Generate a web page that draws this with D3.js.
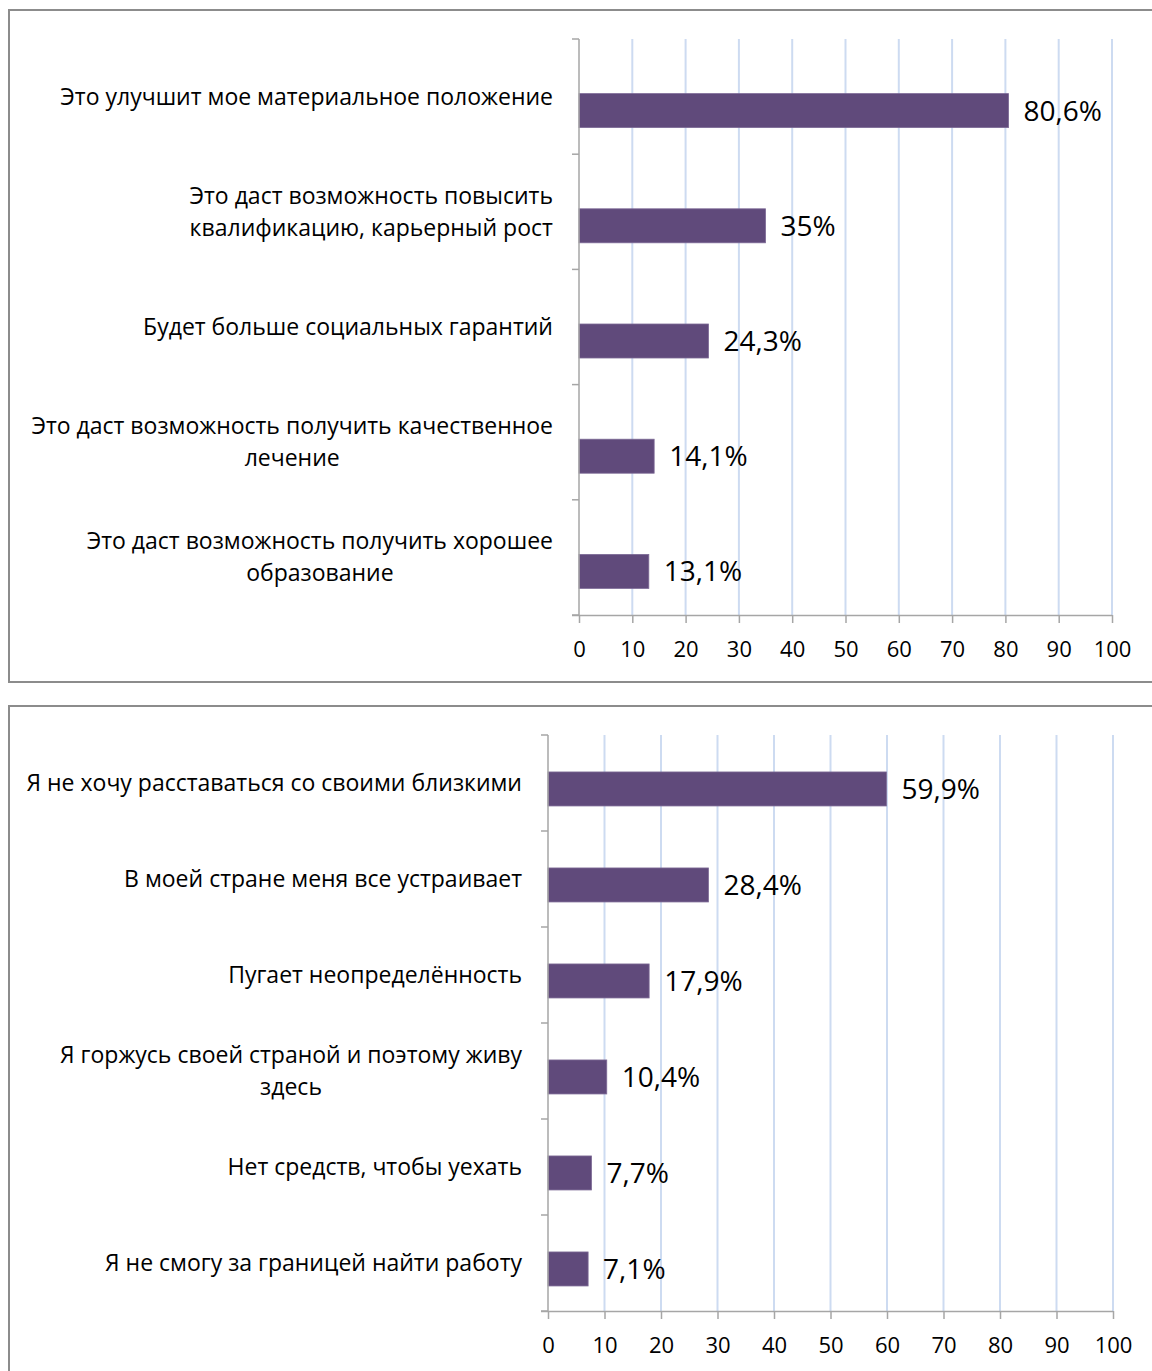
<!DOCTYPE html>
<html><head><meta charset="utf-8">
<script src="https://cdn.jsdelivr.net/npm/d3@7"></script>
<style>
html,body{margin:0;padding:0;background:#fff;}
svg{display:block;font-family:"Open Sans",sans-serif;}
</style></head>
<body>
<svg id="c" width="1152" height="1371"></svg>
<script>
const categories1 = [
  "Это улучшит мое материальное положение",
  "Это даст возможность повысить\nквалификацию, карьерный рост",
  "Будет больше социальных гарантий",
  "Это даст возможность получить качественное\nлечение",
  "Это даст возможность получить хорошее\nобразование"
];
const values1 = [80.6, 35, 24.3, 14.1, 13.1];

const categories2 = [
  "Я не хочу расставаться со своими близкими",
  "В моей стране меня все устраивает",
  "Пугает неопределённость",
  "Я горжусь своей страной и поэтому живу\nздесь",
  "Нет средств, чтобы уехать",
  "Я не смогу за границей найти работу"
];
const values2 = [59.9, 28.4, 17.9, 10.4, 7.7, 7.1];

const tickValues = [0, 10, 20, 30, 40, 50, 60, 70, 80, 90, 100];

const svg = d3.select("#c");
const BAR = "#604a7b";
const GRID = "#cddbf1";
const AXIS = "#a6a6a6";

function fmt(v){ return String(v).replace(".", ",") + "%"; }

function panel(cfg){
  svg.append("rect").attr("x", cfg.box[0]).attr("y", cfg.box[1])
    .attr("width", cfg.box[2]).attr("height", cfg.box[3])
    .attr("fill", "none").attr("stroke", "#8c8c8c").attr("stroke-width", 2);
  const g = svg.append("g");
  const x = d3.scaleLinear().domain([0, 100]).range([cfg.x0, cfg.x1]);
  const y = d3.scaleBand().domain(d3.range(cfg.cats.length)).range([cfg.y0, cfg.y1]).padding(0);
  const bw = y.bandwidth();
  g.selectAll(".grid").data(tickValues.filter(d => d > 0)).enter().append("line")
    .attr("x1", d => x(d)).attr("x2", d => x(d))
    .attr("y1", cfg.y0).attr("y2", cfg.y1)
    .attr("stroke", GRID).attr("stroke-width", 2);
  g.selectAll(".bar").data(cfg.vals).enter().append("rect")
    .attr("x", x(0)).attr("y", (d, i) => y(i) + bw * cfg.barOff)
    .attr("width", d => x(d) - x(0)).attr("height", cfg.barH)
    .attr("fill", BAR).attr("stroke", "#7d6a96").attr("stroke-width", 0.8);
  g.append("line").attr("x1", x(0)).attr("x2", x(0)).attr("y1", cfg.y0).attr("y2", cfg.y1)
    .attr("stroke", AXIS).attr("stroke-width", 1.5);
  const bounds = d3.range(cfg.cats.length + 1).map(i => cfg.y0 + i * bw);
  g.selectAll(".yt").data(bounds).enter().append("line")
    .attr("x1", x(0) - 7).attr("x2", x(0)).attr("y1", d => d).attr("y2", d => d)
    .attr("stroke", AXIS).attr("stroke-width", 1.5);
  const xa = g.append("g").attr("transform", `translate(0,${cfg.y1})`)
    .call(d3.axisBottom(x).tickValues(tickValues).tickSize(8).tickSizeOuter(0).tickPadding(18));
  xa.select(".domain").attr("stroke", AXIS).attr("stroke-width", 1.5)
    .attr("d", `M${x(0) - 7},0.5H${x(100)}`);
  xa.selectAll(".tick line").attr("stroke", AXIS).attr("stroke-width", 1.5);
  xa.selectAll(".tick text").attr("fill", "#000").attr("font-size", cfg.tickFs)
    .attr("font-family", '"Open Sans",sans-serif');
  g.selectAll(".vl").data(cfg.vals).enter().append("text")
    .attr("x", d => x(d) + 15).attr("y", (d, i) => y(i) + bw * cfg.barOff + cfg.barH / 2)
    .attr("dy", "0.36em").attr("font-size", cfg.valFs).attr("fill", "#000")
    .text(d => fmt(d));
  cfg.cats.forEach((c, i) => {
    const lines = c.split("\n");
    const t = g.append("text").attr("font-size", cfg.catFs).attr("fill", "#000")
      .attr("text-anchor", "middle");
    const lh = cfg.lineH;
    const cy = y(i) + bw / 2;
    const spans = lines.map((ln, k) => t.append("tspan").attr("y", cy + (k - (lines.length - 1) / 2) * lh)
      .attr("dy", "0.35em").text(ln));
    const maxW = d3.max(spans, s => s.node().getComputedTextLength());
    spans.forEach(s => s.attr("x", cfg.labelRight - maxW / 2));
  });
}

panel({
  box: [9, 10, 1160, 672],
  cats: categories1, vals: values1,
  x0: 579, x1: 1112, y0: 39, y1: 615,
  barOff: 0.474, barH: 34,
  labelRight: 553, lineH: 32,
  catFs: 23, valFs: 28, tickFs: 22
});
panel({
  box: [9, 706, 1160, 700],
  cats: categories2, vals: values2,
  x0: 548, x1: 1113, y0: 735, y1: 1311,
  barOff: 0.385, barH: 34,
  labelRight: 522, lineH: 32,
  catFs: 23, valFs: 28, tickFs: 22
});
</script>
</body></html>
